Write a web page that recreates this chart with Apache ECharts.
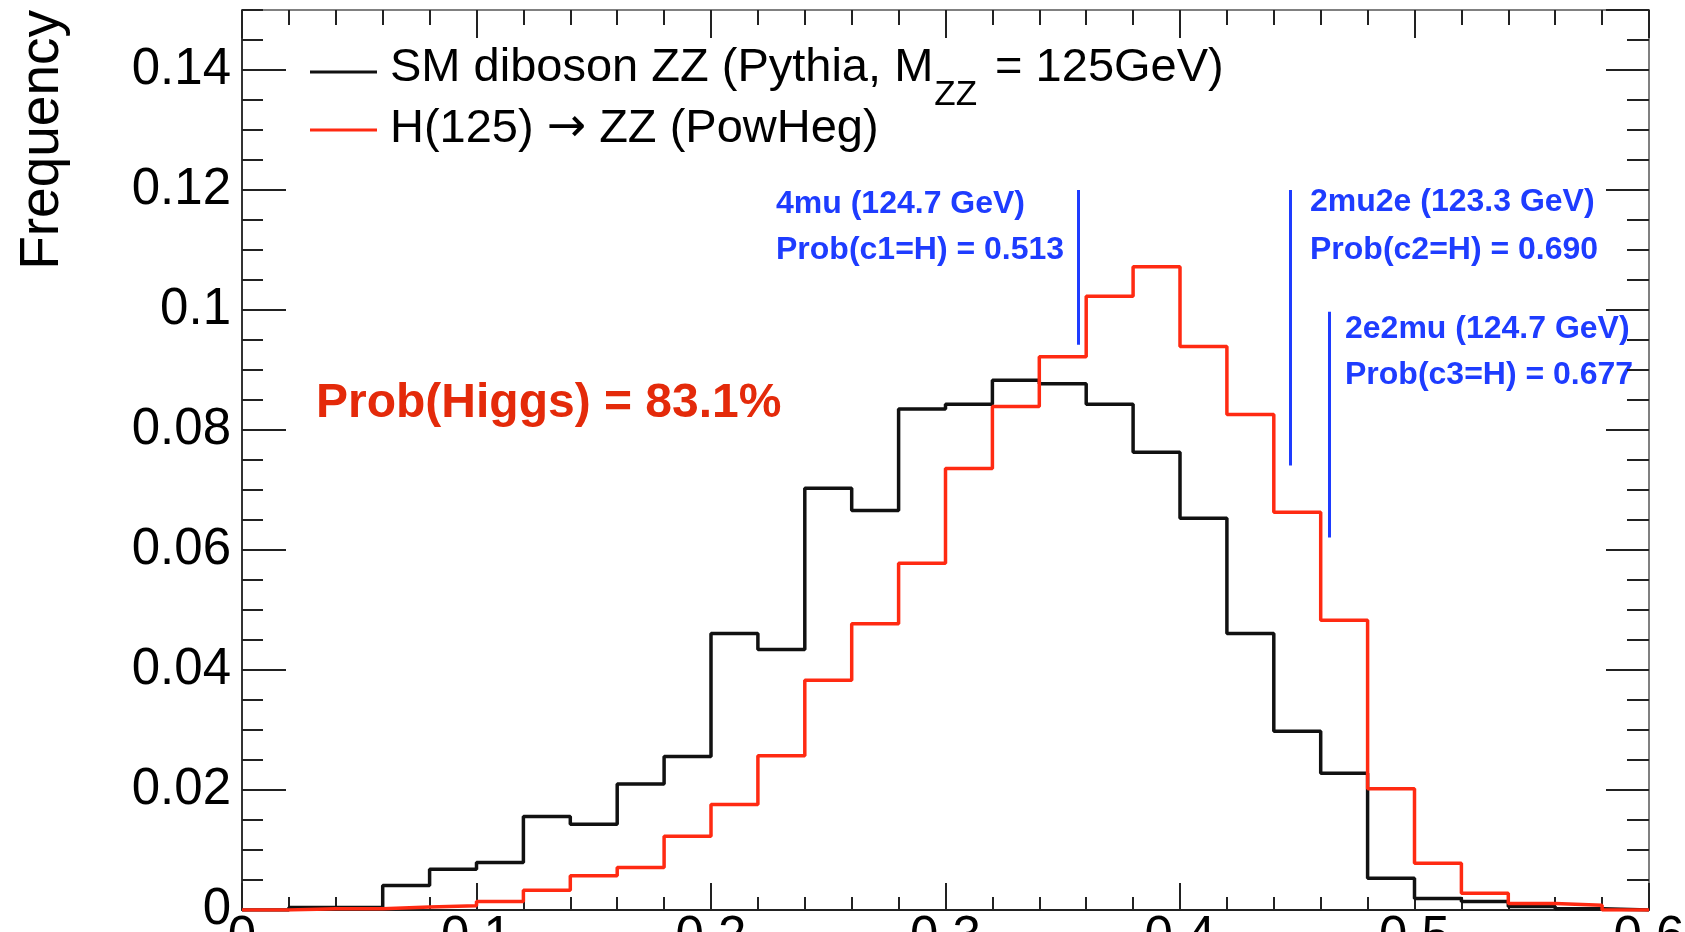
<!DOCTYPE html>
<html>
<head>
<meta charset="utf-8">
<script src="https://cdn.jsdelivr.net/npm/echarts@6/dist/echarts.min.js"></script>
<style>
html,body{margin:0;padding:0;background:#fff;}
#chart{width:1685px;height:932px;}
</style>
</head>
<body>
<div id="chart"></div>
<script>
// ---- data ----
const binEdges = [0, 0.02, 0.04, 0.06, 0.08, 0.10, 0.12, 0.14, 0.16, 0.18,
                  0.20, 0.22, 0.24, 0.26, 0.28, 0.30, 0.32, 0.34, 0.36, 0.38,
                  0.40, 0.42, 0.44, 0.46, 0.48, 0.50, 0.52, 0.54, 0.56, 0.58, 0.60];
const smDiboson = [0, 0.0004, 0.0004, 0.0041, 0.0068, 0.0079, 0.0156, 0.0143, 0.0210, 0.0256,
                   0.0461, 0.0434, 0.0703, 0.0666, 0.0835, 0.0843, 0.0883, 0.0877, 0.0843, 0.0763,
                   0.0653, 0.0461, 0.0298, 0.0228, 0.0053, 0.0019, 0.0014, 0.0006, 0.0002, 0];
const higgsZZ = [0, 0.0002, 0.0002, 0.0005, 0.0007, 0.0014, 0.0033, 0.0057, 0.0071, 0.0123,
                 0.0176, 0.0257, 0.0383, 0.0477, 0.0578, 0.0736, 0.0839, 0.0922, 0.1023, 0.1072,
                 0.0939, 0.0826, 0.0663, 0.0483, 0.0202, 0.0078, 0.0028, 0.0011, 0.0008, 0];
const xTicks = [0, 0.1, 0.2, 0.3, 0.4, 0.5, 0.6];
const yTicks = [0, 0.02, 0.04, 0.06, 0.08, 0.10, 0.12, 0.14];
const yMax = 0.15;
const yMinorStep = 0.005;
const xMinorPerMajor = 5;
// annotation markers (event candidates)
const annotX = [0.3567, 0.4472, 0.4636];
const annotTop = [0.12, 0.12, 0.0997];
const annotBottom = [0.0942, 0.0741, 0.0621];
const annotLine1 = ['4mu (124.7 GeV)', '2mu2e (123.3 GeV)', '2e2mu (124.7 GeV)'];
const annotLine2 = ['Prob(c1=H) = 0.513', 'Prob(c2=H) = 0.690', 'Prob(c3=H) = 0.677'];
const legendNames = ['SM diboson ZZ (Pythia, M', 'ZZ', ' = 125GeV)'];
const legendName2 = ['H(125) ', '\u2192', ' ZZ (PowHeg)'];
const probText = 'Prob(Higgs) = 83.1%';
const yTitle = 'Frequency';

// ---- styles ----
const FF = '"Liberation Sans", Arial, Helvetica, sans-serif';
const C_BLACK = '#111111';
const C_RED = '#ff2a12';
const C_BLUE = '#1e3cff';
const C_PROB = '#e42a0a';
const C_AXIS = '#222222';
const C_FRAME = '#808080';

function histData(vals) {
  const d = [];
  for (let i = 0; i < vals.length; i++) d.push([binEdges[i], vals[i]]);
  d.push([binEdges[vals.length], vals[vals.length - 1]]);
  return d;
}

const cv = document.createElement('canvas').getContext('2d');
function tw(str, font) { cv.font = font; return cv.measureText(str).width; }

const chart = echarts.init(document.getElementById('chart'), null, {renderer: 'canvas'});

const xMajor = xTicks[1] - xTicks[0];
const yMajor = yTicks[1] - yTicks[0];

function xAxisDef(pos, majorLen, minorLen, showLabel, lineColor) {
  return {
    type: 'value', position: pos, min: xTicks[0], max: xTicks[xTicks.length - 1], interval: xMajor,
    splitLine: {show: false},
    axisLine: {show: true, onZero: false, lineStyle: {color: lineColor, width: 2}},
    axisTick: {show: true, inside: true, length: majorLen, lineStyle: {color: C_AXIS, width: 2}},
    minorTick: {show: true, splitNumber: xMinorPerMajor, length: minorLen, lineStyle: {color: C_AXIS, width: 2}},
    axisLabel: {show: showLabel, fontSize: 51, fontFamily: FF, color: '#000', margin: 2}
  };
}
function yAxisDef(pos, interval, len, showLabel, showLine, lineColor) {
  return {
    type: 'value', position: pos, min: 0, max: yMax, interval: interval,
    splitLine: {show: false},
    axisLine: {show: showLine, onZero: false, lineStyle: {color: lineColor, width: 2}},
    axisTick: {show: true, inside: true, length: len, lineStyle: {color: C_AXIS, width: 2}},
    axisLabel: {show: showLabel, fontSize: 51, fontFamily: FF, color: '#000', margin: 11, showMaxLabel: false}
  };
}

const LEG = 47;
const SUB = 35;
const legFont = LEG + 'px ' + FF;
const subFont = SUB + 'px ' + FF;
const arrowFont = LEG + 'px "DejaVu Sans", ' + FF;
const legX = 390;
const w1 = tw(legendNames[0], legFont);
const wSub = tw(legendNames[1], subFont);
const wH = tw(legendName2[0], legFont);
const wArrow = tw(legendName2[1], arrowFont);
const BL = 32;
const blueFont = 'bold ' + BL + 'px ' + FF;
const annotTextX = [776, 1310, 1345];
const annotBase1 = [215, 213, 340];
const annotBase2 = [261, 261, 386];

function txt(x, baseline, str, font, size, color) {
  return {
    type: 'text', x: x, y: baseline - 0.35 * size, silent: true,
    style: {text: str, font: font, fill: color, align: 'left', textAlign: 'left', verticalAlign: 'middle', textVerticalAlign: 'middle'}
  };
}

const graphics = [
  {type: 'line', shape: {x1: 310, y1: 72, x2: 377, y2: 72}, style: {stroke: C_BLACK, lineWidth: 3}, silent: true},
  {type: 'line', shape: {x1: 310, y1: 130, x2: 377, y2: 130}, style: {stroke: C_RED, lineWidth: 3}, silent: true},
  txt(legX, 84, legendNames[0], legFont, LEG, '#000'),
  txt(legX + w1 + 1, 108, legendNames[1], subFont, SUB, '#000'),
  txt(legX + w1 + wSub + 6, 84, legendNames[2], legFont, LEG, '#000'),
  txt(legX, 145, legendName2[0], legFont, LEG, '#000'),
  txt(legX + wH, 145, legendName2[1], arrowFont, LEG, '#000'),
  txt(legX + wH + wArrow, 145, legendName2[2], legFont, LEG, '#000'),
  txt(316, 421, probText, 'bold 48px ' + FF, 48, C_PROB),
  {
    type: 'text', x: 43, y: 10, rotation: Math.PI / 2, silent: true,
    style: {text: yTitle, font: '55px ' + FF, fill: '#000', align: 'right', textAlign: 'right', verticalAlign: 'middle', textVerticalAlign: 'middle'}
  }
];
for (let i = 0; i < annotX.length; i++) {
  graphics.push(txt(annotTextX[i], annotBase1[i], annotLine1[i], blueFont, BL, C_BLUE));
  graphics.push(txt(annotTextX[i], annotBase2[i], annotLine2[i], blueFont, BL, C_BLUE));
}

const option = {
  animation: false,
  backgroundColor: '#fff',
  grid: {left: 242, right: 36, top: 10, bottom: 22, containLabel: false, outerBoundsMode: 'none'},
  xAxis: [
    xAxisDef('bottom', 27, 13, true, C_AXIS),
    xAxisDef('top', 28, 15, false, C_FRAME)
  ],
  yAxis: [
    yAxisDef('left', yMajor, 44, true, true, '#333'),
    yAxisDef('left', yMinorStep, 21, false, false, '#333'),
    yAxisDef('right', yMajor, 43, false, true, C_FRAME),
    yAxisDef('right', yMinorStep, 22, false, false, C_FRAME)
  ],
  series: [
    {
      type: 'line', name: 'SM diboson ZZ', xAxisIndex: 0, yAxisIndex: 0, step: 'end',
      symbol: 'none', data: histData(smDiboson),
      lineStyle: {color: C_BLACK, width: 3.5}, itemStyle: {color: C_BLACK}, z: 3
    },
    {
      type: 'line', name: 'H(125) -> ZZ', xAxisIndex: 0, yAxisIndex: 0, step: 'end',
      symbol: 'none', data: histData(higgsZZ),
      lineStyle: {color: C_RED, width: 3.5}, itemStyle: {color: C_RED}, z: 4
    },
    {
      type: 'lines', coordinateSystem: 'cartesian2d', xAxisIndex: 0, yAxisIndex: 0,
      polyline: false, effect: {show: false},
      data: annotX.map((x, i) => ({coords: [[x, annotTop[i]], [x, annotBottom[i]]]})),
      lineStyle: {color: C_BLUE, width: 3, opacity: 1, curveness: 0}, z: 5
    }
  ],
  graphic: graphics
};
chart.setOption(option);
</script>
</body>
</html>
